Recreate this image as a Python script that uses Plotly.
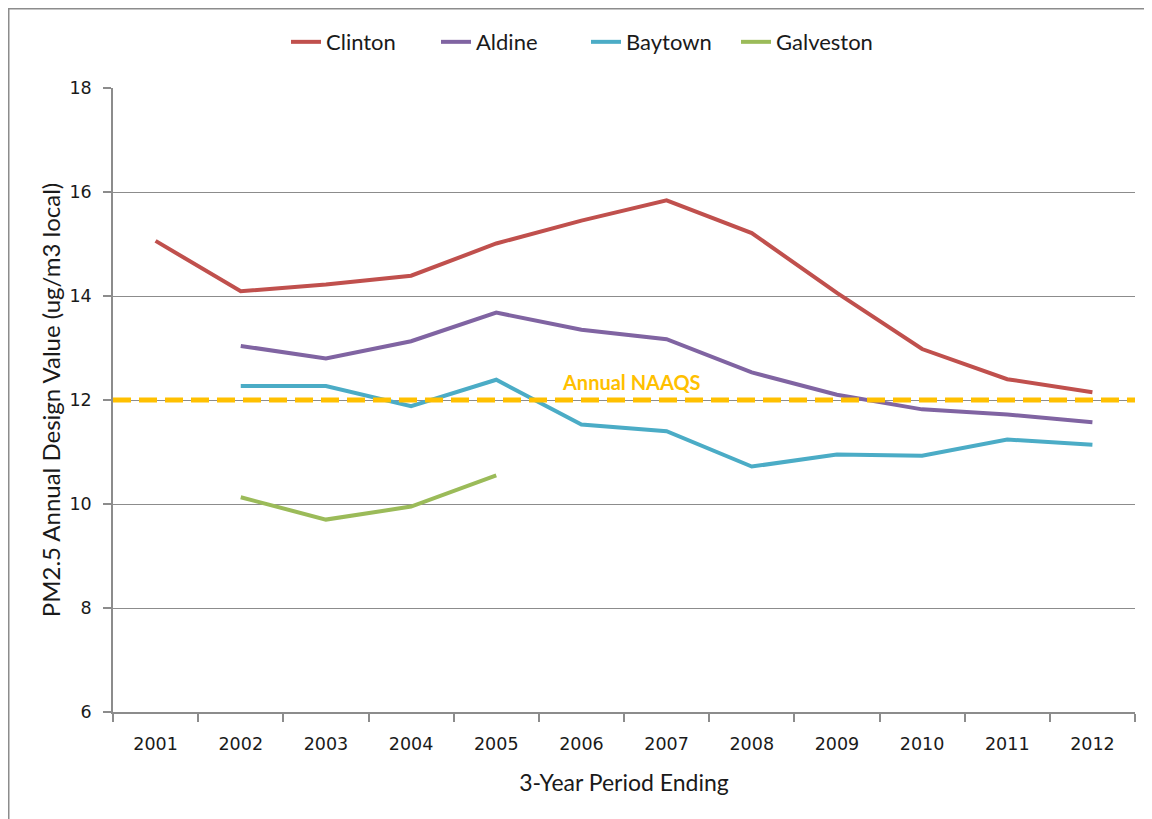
import plotly.graph_objects as go

years = ["2001", "2002", "2003", "2004", "2005", "2006", "2007", "2008", "2009", "2010", "2011", "2012"]
clinton = [15.06, 14.09, 14.22, 14.39, 15.01, 15.45, 15.84, 15.21, 14.06, 12.98, 12.40, 12.15]
aldine = [None, 13.04, 12.80, 13.13, 13.68, 13.35, 13.17, 12.53, 12.10, 11.82, 11.72, 11.57]
baytown = [None, 12.27, 12.27, 11.88, 12.39, 11.53, 11.40, 10.72, 10.95, 10.93, 11.24, 11.14]
galveston = [None, 10.13, 9.70, 9.95, 10.55, None, None, None, None, None, None, None]
naaqs = 12
naaqs_label = "Annual NAAQS"

series = [
    ("Clinton", clinton, "#C0504D"),
    ("Aldine", aldine, "#8064A2"),
    ("Baytown", baytown, "#4BACC6"),
    ("Galveston", galveston, "#9BBB59"),
]

W, H = 1144, 811
ML, MR, MT, MB = 105, 17, 80, 106.5
PW = W - ML - MR
PH = H - MT - MB

fig = go.Figure()
for name, vals, color in series:
    fig.add_trace(go.Scatter(x=years, y=vals, name=name, mode="lines",
                             line=dict(color=color, width=4), connectgaps=False))

fig.add_shape(type="line", xref="paper", x0=0, x1=1, yref="y", y0=naaqs, y1=naaqs,
              line=dict(color="#FFC000", width=5, dash="18px,8px"), layer="above")
fig.add_annotation(x=5.59, y=naaqs, yref="y", text="<b>" + naaqs_label + "</b>",
                   showarrow=False, yanchor="bottom", yshift=4,
                   font=dict(family="Lato", size=20, color="#FFC000"))

# outer chart border
fig.add_shape(type="rect", xref="paper", yref="paper",
              x0=(0.75 - ML) / PW, x1=(1200 - ML) / PW,
              y0=-(900 - (MT + PH)) / PH, y1=1 + (MT - 0.75) / PH,
              line=dict(color="#8C8C8C", width=1.5), layer="below")

fig.update_layout(
    width=W, height=H,
    margin=dict(l=ML, r=MR, t=MT, b=MB),
    paper_bgcolor="#FFFFFF", plot_bgcolor="#FFFFFF",
    font=dict(family="Lato", size=17, color="#1A1A1A"),
    legend=dict(orientation="h", x=(586 - 8 - ML) / PW, xanchor="center",
                y=1 + (MT - 34) / PH, yanchor="middle",
                font=dict(family="Lato", size=22), traceorder="normal",
                entrywidth=105, entrywidthmode="pixels"),
    showlegend=True,
)
fig.update_xaxes(type="category", range=[-0.5, 11.5], tickson="boundaries",
                 ticks="outside", ticklen=8, tickcolor="#8C8C8C", tickwidth=1.5,
                 showline=True, linecolor="#8C8C8C", linewidth=1.5, showgrid=False,
                 tickfont=dict(family="DejaVu Sans", size=17.5), ticklabelstandoff=15,
                 title=dict(text="3-Year Period Ending", font=dict(family="Lato", size=23), standoff=22))
fig.update_yaxes(range=[6, 18], dtick=2, ticks="outside", ticklen=8, tickcolor="#8C8C8C", tickwidth=1.5,
                 showline=True, linecolor="#8C8C8C", linewidth=1.5,
                 showgrid=True, gridcolor="#8C8C8C", gridwidth=1.2, zeroline=False,
                 tickfont=dict(family="DejaVu Sans", size=17.5), ticklabelstandoff=8,
                 title=dict(text="PM2.5 Annual Design Value (ug/m3 local)",
                            font=dict(family="Lato", size=24), standoff=2))

fig.write_html("out.html")
